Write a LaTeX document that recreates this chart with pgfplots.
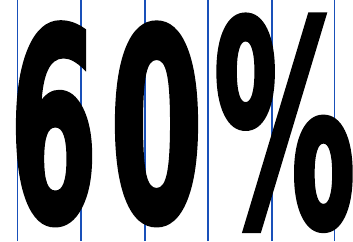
\documentclass[border=0pt]{standalone}
\usepackage{pgfplots}
\pgfplotsset{compat=1.18}
\usepackage{fontspec}
\newfontfamily\cond{DejaVu Sans Condensed Bold}[FakeBold=2]
\definecolor{gridblue}{RGB}{25,80,185}
\begin{document}
\begin{tikzpicture}
\begin{axis}[name=ax, scale only axis, width=353pt, height=241pt,
  xmin=0, xmax=353, ymin=0, ymax=241, hide axis, clip=true]
\addplot[ycomb, draw=gridblue, line width=1.8pt, mark=none] coordinates {
(17.5,241) (81,241) (145,241) (208,241) (272,241) (334.5,241)};
\node[anchor=south, inner sep=0pt] at (axis cs:53.5,16) {\resizebox{88pt}{198pt}{\cond 6}};
\node[anchor=south, inner sep=0pt] at (axis cs:156.5,16) {\resizebox{93pt}{198pt}{\cond 0}};
\node[anchor=south, inner sep=0pt] at (axis cs:284.5,10.5) {\resizebox{142pt}{211pt}{\cond\%}};
\end{axis}
\pgfresetboundingbox
\useasboundingbox (ax.south west) rectangle (ax.north east);
\end{tikzpicture}
\end{document}
